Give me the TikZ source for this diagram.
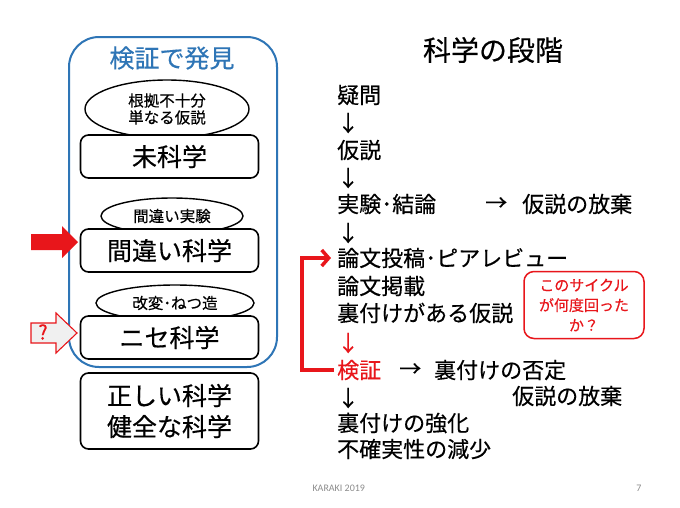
\documentclass[tikz,border=0pt]{standalone}
\usepackage{fontspec}
\setmainfont{Noto Sans CJK JP}[FakeBold=0.4]
\newfontfamily\footfont{Carlito}
\usetikzlibrary{arrows.meta,shapes.geometric}
\definecolor{kblue}{HTML}{2E75B6}
\definecolor{kred}{HTML}{E8161B}
\tikzset{
  x=1pt,y=-1pt,
  catbox/.style={draw=black,line width=1.6pt,rounded corners=8pt,fill=white,minimum width=178pt,inner sep=0pt,align=center,font=\fontsize{25}{31}\selectfont},
  oval/.style={ellipse,draw=black,line width=1.4pt,fill=white,inner sep=0pt,align=center,font=\fontsize{15.5}{19}\selectfont},
  stage/.style={anchor=west,inner sep=0pt,font=\fontsize{22}{26}\selectfont},
}
\begin{document}
\begin{tikzpicture}
\useasboundingbox[fill=white] (0,0) rectangle (680,507);
% left panel
\draw[kblue,line width=2pt,rounded corners=30pt] (69,37) rectangle (277,367);
\node[font=\fontsize{25}{28}\selectfont,text=kblue] (ttl) at (172,58) {検証で発見};
\node[oval,minimum width=164pt,minimum height=58pt] (e1) at (167,109) {根拠不十分\\[-2pt]単なる仮説};
\node[catbox,minimum height=43pt] (b1) at (169.5,156.5) {未科学};
\node[oval,minimum width=142pt,minimum height=36pt] (e2) at (172,216) {間違い実験};
\node[catbox,minimum height=43pt] (b2) at (169.5,250.5) {間違い科学};
\node[oval,minimum width=158pt,minimum height=36pt] (e3) at (175,303) {改変･ねつ造};
\node[catbox,minimum height=43pt] (b3) at (169.5,337.5) {ニセ科学};
\node[catbox,minimum height=76pt] (b4) at (169.5,411) {正しい科学\\健全な科学};
% pointer arrows
\fill[kred] (31,234) -- (62,234) -- (62,226) -- (78,242) -- (62,258) -- (62,250) -- (31,250) -- cycle;
\draw[kred,fill=black!6,line width=1.1pt] (31,323) -- (56,323) -- (56,313) -- (77,333) -- (56,353) -- (56,343) -- (31,343) -- cycle;
\node[text=kred,font=\fontsize{20}{22}\selectfont] (q) at (43,332) {?};
% right panel
\node[font=\fontsize{28}{32}\selectfont] (title) at (493,50) {科学の段階};
\node[stage] (s1) at (337,95) {疑問};
\node[stage] (a1) at (337,123) {↓};
\node[stage] (s2) at (337,150) {仮説};
\node[stage] (a2) at (337,178) {↓};
\node[stage] (s3) at (337,204) {実験･結論};
\node[stage] (r1) at (485,204) {→};
\node[stage] (r2) at (522,204) {仮説の放棄};
\node[stage] (a3) at (337,233) {↓};
\node[stage] (s4) at (337,258) {論文投稿･ピアレビュー};
\node[stage] (s5) at (337,286) {論文掲載};
\node[stage] (s6) at (337,313) {裏付けがある仮説};
\node[stage,text=kred] (a4) at (337,343) {↓};
\node[stage,text=kred] (s7) at (337,370) {検証};
\node[stage] (r3) at (399,370) {→};
\node[stage] (r4) at (434,370) {裏付けの否定};
\node[stage] (r5) at (512,396) {仮説の放棄};
\node[stage] (a5) at (337,398) {↓};
\node[stage] (s8) at (337,423) {裏付けの強化};
\node[stage] (s9) at (337,449) {不確実性の減少};
\draw[kred,line width=3.5pt,-{Straight Barb[length=7pt,width=16pt]}] ([xshift=-3pt]s7.west) -- (302,370) |- ([xshift=-6pt]s4.west);
\node[draw=kred,line width=1.5pt,rounded corners=10pt,minimum width=120pt,minimum height=67pt,align=center,text=kred,font=\fontsize{15}{20}\selectfont,inner sep=0pt] (cyc) at (584,305) {このサイクル\\が何度回った\\か？};
% footer
\node[text=black!45,font=\footfont\fontsize{10}{12}\selectfont,anchor=west] (foot) at (309,488) {KARAKI 2019};
\node[text=black!45,font=\footfont\fontsize{10}{12}\selectfont] (pg) at (639,488) {7};
\end{tikzpicture}
\end{document}
